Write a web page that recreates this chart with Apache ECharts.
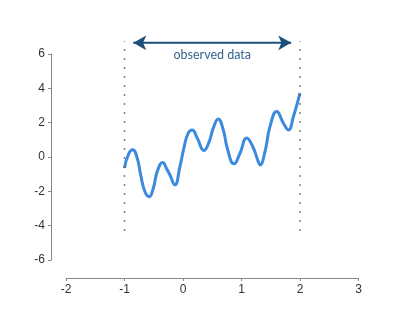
<!DOCTYPE html>
<html><head><meta charset="utf-8">
<script src="https://cdn.jsdelivr.net/npm/echarts@6/dist/echarts.min.js"></script>
<style>html,body{margin:0;padding:0;background:#fff}#c{width:415px;height:312px}</style>
</head><body><div id="c"></div>
<script>
var curveX = [-1.0,-0.936,-0.861,-0.782,-0.724,-0.65,-0.577,-0.508,-0.44,-0.349,-0.27,-0.224,-0.139,-0.053,0.021,0.089,0.157,0.243,0.358,0.448,0.517,0.602,0.688,0.764,0.871,0.974,1.089,1.191,1.287,1.316,1.402,1.488,1.603,1.716,1.802,1.888,2.0];
var curveY = [-0.65,0.13,0.42,-0.07,-1.04,-2.02,-2.31,-1.82,-0.85,-0.32,-0.75,-1.04,-1.62,-0.56,0.61,1.39,1.58,1.10,0.38,0.90,1.68,2.21,1.58,0.42,-0.40,0.22,1.10,0.61,-0.27,-0.46,0.32,1.78,2.65,1.97,1.58,2.36,3.72];
var boundX = [-1, 2];
var boundY = [-4.3, 6.75];
var arrowX = [-0.85, 0.5, 1.85];
var arrowY = 6.65;
var arrowLabel = 'observed data';
var xTicks = [-2, -1, 0, 1, 2, 3];
var yTicks = [-6, -4, -2, 0, 2, 4, 6];

var curve = curveX.map(function(x, i){ return [x, curveY[i]]; });
var font = '"Liberation Sans", Arial, sans-serif';
var series = [{
  type: 'line', data: curve, smooth: 0.5, showSymbol: false, symbol: 'none', clip: false,
  lineStyle: {color: '#3b8ade', width: 3}, z: 3
}];
boundX.forEach(function(bx){
  series.push({
    type: 'line', data: [[bx, boundY[0]], [bx, boundY[1]]], symbol: 'none', clip: false, silent: true,
    lineStyle: {color: '#555', width: 1.5, type: [1.5, 7.5]}
  });
});
series.push({
  type: 'line', clip: false, silent: true, showSymbol: true, z: 4,
  lineStyle: {color: '#1d4f7c', width: 2},
  itemStyle: {color: '#1d4f7c'},
  data: [
    {value: [arrowX[0], arrowY], symbol: 'arrow', symbolSize: [11, 13], symbolRotate: 90},
    {value: [arrowX[1], arrowY], symbol: 'circle', symbolSize: 0,
     label: {show: true, position: 'bottom', distance: 6, formatter: arrowLabel, color: '#36648f', fontSize: 12.5, fontFamily: '"Lato", "Open Sans", sans-serif'}},
    {value: [arrowX[2], arrowY], symbol: 'arrow', symbolSize: [11, 13], symbolRotate: -90}
  ]
});
var chart = echarts.init(document.getElementById('c'), null, {renderer: 'canvas'});
chart.setOption({
  animation: false,
  grid: {left: 66, right: 56.5, top: 54, bottom: 52, containLabel: false},
  xAxis: {
    type: 'value', min: xTicks[0], max: xTicks[xTicks.length-1], interval: 1, offset: 18,
    axisLine: {show: true, onZero: false, lineStyle: {color: '#888', width: 1}},
    axisTick: {show: true, length: 3, lineStyle: {color: '#888'}},
    axisLabel: {color: '#333', fontSize: 12, fontFamily: font, margin: 6},
    splitLine: {show: false}
  },
  yAxis: {
    type: 'value', min: yTicks[0], max: yTicks[yTicks.length-1], interval: 2, offset: 15,
    axisLine: {show: true, onZero: false, lineStyle: {color: '#888', width: 1}},
    axisTick: {show: true, length: 3, lineStyle: {color: '#888'}},
    axisLabel: {color: '#333', fontSize: 12, fontFamily: font, margin: 6},
    splitLine: {show: false}
  },
  series: series
});
</script></body></html>
